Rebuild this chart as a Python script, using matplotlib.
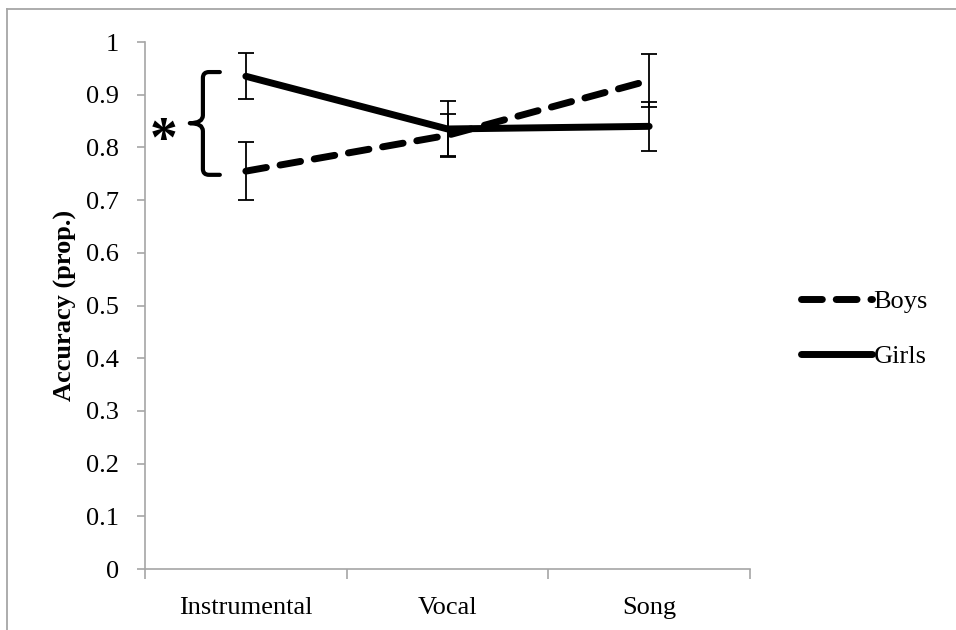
import matplotlib
matplotlib.use('Agg')
import matplotlib.pyplot as plt
from matplotlib.path import Path
from matplotlib.patches import PathPatch
from matplotlib.lines import Line2D

plt.rcParams['font.family'] = ['Liberation Serif', 'DejaVu Serif']

# data
categories = ['Instrumental', 'Vocal', 'Song']
boys = [0.755, 0.823, 0.927]
boys_err = [0.055, 0.040, 0.050]
girls = [0.935, 0.835, 0.840]
girls_err = [0.044, 0.053, 0.047]
y_ticks = [0, 0.1, 0.2, 0.3, 0.4, 0.5, 0.6, 0.7, 0.8, 0.9, 1]
y_tick_labels = ['0', '0.1', '0.2', '0.3', '0.4', '0.5', '0.6', '0.7', '0.8', '0.9', '1']

AXIS_GRAY = '#a6a6a6'
FS = 19

fig = plt.figure(figsize=(9.56, 6.30), dpi=100)
ax = fig.add_axes([0.1517, 0.0968, 0.6328, 0.8365])

x = list(range(len(categories)))

ax.errorbar(x, boys, yerr=boys_err, color='black', linewidth=5,
            linestyle=(0, (3, 2)), dash_capstyle='round',
            ecolor='black', elinewidth=1.3, capsize=6, capthick=1.3,
            label='Boys', zorder=3)
ax.errorbar(x, girls, yerr=girls_err, color='black', linewidth=5,
            solid_capstyle='round',
            ecolor='black', elinewidth=1.3, capsize=6, capthick=1.3,
            label='Girls', zorder=3)

ax.set_xlim(-0.5, len(categories) - 0.5)
ax.set_ylim(0, 1)
ax.set_yticks(y_ticks)
ax.set_yticklabels(y_tick_labels, fontsize=FS)

# category labels centred, ticks on the boundaries
ax.set_xticks([i - 0.5 for i in range(len(categories) + 1)])
ax.set_xticklabels([])
ax.set_xticks(x, minor=True)
ax.set_xticklabels(categories, minor=True, fontsize=FS)
ax.tick_params(axis='x', which='minor', length=0, pad=20)
ax.tick_params(axis='x', which='major', length=7, color=AXIS_GRAY, width=1.2)
ax.tick_params(axis='y', length=6, color=AXIS_GRAY, width=1.2, pad=13)

for side in ['top', 'right']:
    ax.spines[side].set_visible(False)
for side in ['left', 'bottom']:
    ax.spines[side].set_color(AXIS_GRAY)
    ax.spines[side].set_linewidth(1.2)

ax.set_ylabel('Accuracy (prop.)', fontsize=FS, fontweight='bold', labelpad=6)

# significance brace between the two Instrumental points
verts = [(-0.129, 0.943), (-0.183, 0.943),
         (-0.213, 0.943), (-0.213, 0.932),
         (-0.213, 0.861),
         (-0.213, 0.846), (-0.278, 0.846),
         (-0.213, 0.846), (-0.213, 0.831),
         (-0.213, 0.759),
         (-0.213, 0.748), (-0.183, 0.748),
         (-0.129, 0.748)]
codes = [Path.MOVETO, Path.LINETO,
         Path.CURVE3, Path.CURVE3,
         Path.LINETO,
         Path.CURVE3, Path.CURVE3,
         Path.CURVE3, Path.CURVE3,
         Path.LINETO,
         Path.CURVE3, Path.CURVE3,
         Path.LINETO]
brace = PathPatch(Path(verts, codes), facecolor='none', edgecolor='black',
                  linewidth=3, capstyle='round', joinstyle='round', clip_on=False)
ax.add_patch(brace)
ax.text(-0.41, 0.81, '*', fontsize=40, fontweight='bold', ha='center',
        va='center', clip_on=False)

leg_handles = [Line2D([], [], color='black', linewidth=5, linestyle=(0, (3, 2)),
                      dash_capstyle='round'),
               Line2D([], [], color='black', linewidth=5, solid_capstyle='round')]
fig.legend(leg_handles, ['Boys', 'Girls'], loc='center left',
           bbox_to_anchor=(0.813, 0.478), frameon=False, fontsize=FS,
           handlelength=2.7, handletextpad=0.05, labelspacing=1.2)

# outer chart-area frame
fig.add_artist(Line2D([7 / 956, 7 / 956], [0, 1 - 9 / 630], color=AXIS_GRAY,
                      linewidth=1.3, transform=fig.transFigure))
fig.add_artist(Line2D([7 / 956, 1], [1 - 9 / 630, 1 - 9 / 630], color=AXIS_GRAY,
                      linewidth=1.3, transform=fig.transFigure))

fig.savefig('out.png', dpi=100)
